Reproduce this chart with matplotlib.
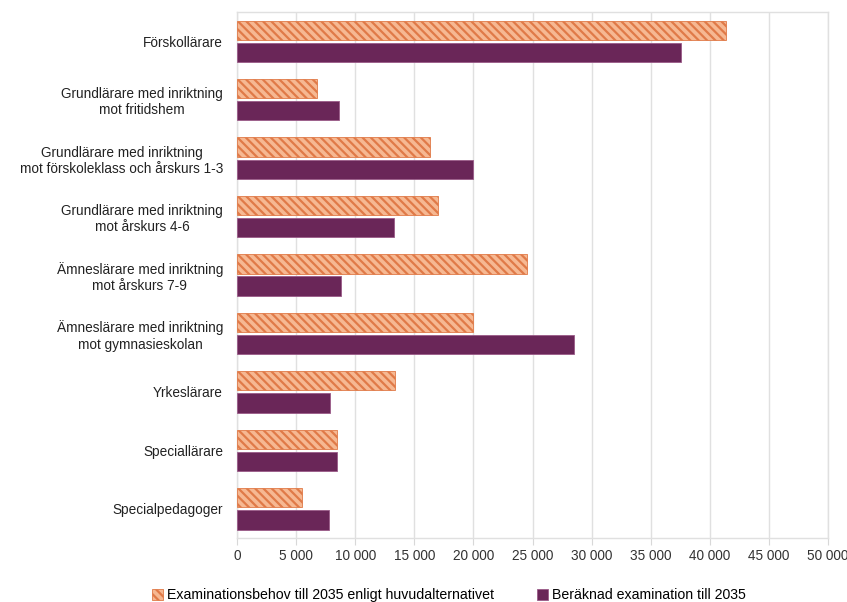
import numpy as np
import matplotlib.pyplot as plt
from matplotlib.ticker import FuncFormatter

categories = [
    "Förskollärare",
    "Grundlärare med inriktning\nmot fritidshem",
    "Grundlärare med inriktning\nmot förskoleklass och årskurs 1-3",
    "Grundlärare med inriktning\nmot årskurs 4-6",
    "Ämneslärare med inriktning\nmot årskurs 7-9",
    "Ämneslärare med inriktning\nmot gymnasieskolan",
    "Yrkeslärare",
    "Speciallärare",
    "Specialpedagoger",
]
behov = [41400, 6800, 16300, 17000, 24500, 20000, 13400, 8500, 5500]
beraknad = [37600, 8600, 20000, 13300, 8800, 28500, 7900, 8500, 7800]
series_labels = ["Examinationsbehov till 2035 enligt huvudalternativet",
                 "Beräknad examination till 2035"]

plt.rcParams['font.family'] = ['Liberation Sans', 'DejaVu Sans']
plt.rcParams['hatch.color'] = '#cc5424'
plt.rcParams['hatch.linewidth'] = 1.6

fig = plt.figure(figsize=(8.47, 6.02), dpi=100)
ax = fig.add_axes([0.2798, 0.1063, 0.6978, 0.8737])

y = np.arange(len(categories))
h = 0.33
ax.barh(y - 0.19, behov, height=h, color='#f6b892', edgecolor='#e07a48',
        linewidth=0.6, hatch='\\\\\\\\', label=series_labels[0], zorder=3)
ax.barh(y + 0.19, beraknad, height=h, color='#6a2658', edgecolor='#9a5a88',
        linewidth=0.6, label=series_labels[1], zorder=3)

ax.set_ylim(len(categories) - 0.5, -0.5)
ax.set_xlim(0, 50000)
ax.set_xticks(np.arange(0, 50001, 5000))
ax.xaxis.set_major_formatter(FuncFormatter(lambda v, p: f"{int(v):,}".replace(",", " ")))
ax.set_yticks(y)
ax.set_yticklabels(categories, fontsize=9.8, color='#222222', linespacing=1.2)
for lbl in ax.get_yticklabels():
    lbl.set_multialignment('center')
ax.tick_params(axis='y', length=0, pad=10)
ax.tick_params(axis='x', length=5, color='#d8d8d8', labelsize=9.8, labelcolor='#333333', pad=3)

ax.grid(axis='x', color='#e0e0e0', linewidth=1, zorder=0)
for s in ax.spines.values():
    s.set_color('#e0e0e0')
    s.set_linewidth(1)

fig.legend(loc='lower center', bbox_to_anchor=(0.53, -0.022), ncol=2,
           frameon=False, fontsize=10.2, handlelength=0.8, handleheight=0.9,
           handletextpad=0.3, columnspacing=3.0)

fig.savefig("out.png", dpi=100)
